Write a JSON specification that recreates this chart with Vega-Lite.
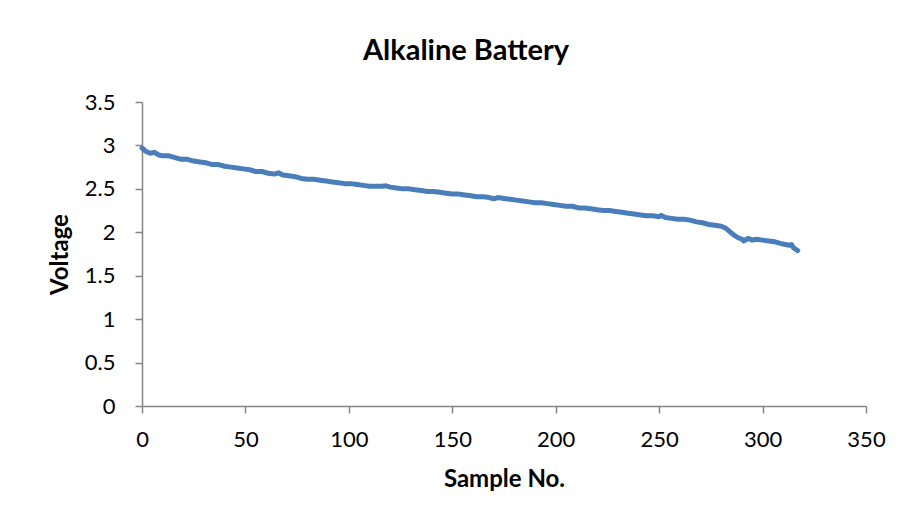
{
  "$schema": "https://vega.github.io/schema/vega-lite/v6.json",
  "width": 724,
  "height": 304,
  "autosize": {"type": "none"},
  "padding": {"left": 142, "top": 102, "right": 40, "bottom": 116},
  "background": "white",
  "title": {
    "text": "Alkaline Battery",
    "anchor": "middle",
    "dx": -38,
    "offset": 25,
    "font": "Lato",
    "fontSize": 29,
    "fontWeight": "bold",
    "color": "#000000"
  },
  "data": {
    "values": [
      {"sample": 0, "voltage": 2.97}, {"sample": 2, "voltage": 2.93}, {"sample": 4, "voltage": 2.91},
      {"sample": 6, "voltage": 2.92}, {"sample": 8, "voltage": 2.89}, {"sample": 10, "voltage": 2.88},
      {"sample": 13, "voltage": 2.88}, {"sample": 16, "voltage": 2.86}, {"sample": 19, "voltage": 2.84},
      {"sample": 22, "voltage": 2.84}, {"sample": 25, "voltage": 2.82}, {"sample": 28, "voltage": 2.81},
      {"sample": 31, "voltage": 2.8}, {"sample": 34, "voltage": 2.78}, {"sample": 37, "voltage": 2.78},
      {"sample": 40, "voltage": 2.76}, {"sample": 43, "voltage": 2.75}, {"sample": 46, "voltage": 2.74},
      {"sample": 49, "voltage": 2.73}, {"sample": 52, "voltage": 2.72}, {"sample": 55, "voltage": 2.7},
      {"sample": 58, "voltage": 2.7}, {"sample": 61, "voltage": 2.68}, {"sample": 64, "voltage": 2.67},
      {"sample": 66, "voltage": 2.685}, {"sample": 68, "voltage": 2.66}, {"sample": 71, "voltage": 2.65},
      {"sample": 74, "voltage": 2.64}, {"sample": 77, "voltage": 2.62}, {"sample": 80, "voltage": 2.61},
      {"sample": 83, "voltage": 2.61}, {"sample": 86, "voltage": 2.6}, {"sample": 89, "voltage": 2.59},
      {"sample": 92, "voltage": 2.58}, {"sample": 95, "voltage": 2.57}, {"sample": 98, "voltage": 2.56},
      {"sample": 101, "voltage": 2.56}, {"sample": 104, "voltage": 2.55}, {"sample": 107, "voltage": 2.54},
      {"sample": 110, "voltage": 2.53}, {"sample": 113, "voltage": 2.53}, {"sample": 116, "voltage": 2.53},
      {"sample": 118, "voltage": 2.535}, {"sample": 120, "voltage": 2.52}, {"sample": 123, "voltage": 2.51},
      {"sample": 126, "voltage": 2.5}, {"sample": 129, "voltage": 2.5}, {"sample": 132, "voltage": 2.49},
      {"sample": 135, "voltage": 2.48}, {"sample": 138, "voltage": 2.47}, {"sample": 141, "voltage": 2.47},
      {"sample": 144, "voltage": 2.46}, {"sample": 147, "voltage": 2.45}, {"sample": 150, "voltage": 2.44},
      {"sample": 153, "voltage": 2.44}, {"sample": 156, "voltage": 2.43}, {"sample": 159, "voltage": 2.42},
      {"sample": 162, "voltage": 2.41}, {"sample": 165, "voltage": 2.41}, {"sample": 168, "voltage": 2.4},
      {"sample": 170, "voltage": 2.385}, {"sample": 172, "voltage": 2.4}, {"sample": 175, "voltage": 2.39},
      {"sample": 178, "voltage": 2.38}, {"sample": 181, "voltage": 2.37}, {"sample": 184, "voltage": 2.36},
      {"sample": 187, "voltage": 2.35}, {"sample": 190, "voltage": 2.34}, {"sample": 193, "voltage": 2.34},
      {"sample": 196, "voltage": 2.33}, {"sample": 199, "voltage": 2.32}, {"sample": 202, "voltage": 2.31},
      {"sample": 205, "voltage": 2.3}, {"sample": 208, "voltage": 2.3}, {"sample": 211, "voltage": 2.28},
      {"sample": 214, "voltage": 2.28}, {"sample": 217, "voltage": 2.27}, {"sample": 220, "voltage": 2.26},
      {"sample": 223, "voltage": 2.25}, {"sample": 226, "voltage": 2.25}, {"sample": 229, "voltage": 2.24},
      {"sample": 232, "voltage": 2.23}, {"sample": 235, "voltage": 2.22}, {"sample": 238, "voltage": 2.21},
      {"sample": 241, "voltage": 2.2}, {"sample": 244, "voltage": 2.19}, {"sample": 247, "voltage": 2.19},
      {"sample": 250, "voltage": 2.18}, {"sample": 251, "voltage": 2.195}, {"sample": 253, "voltage": 2.17},
      {"sample": 256, "voltage": 2.16}, {"sample": 259, "voltage": 2.15}, {"sample": 262, "voltage": 2.15},
      {"sample": 265, "voltage": 2.14}, {"sample": 268, "voltage": 2.12}, {"sample": 271, "voltage": 2.11},
      {"sample": 274, "voltage": 2.09}, {"sample": 277, "voltage": 2.08}, {"sample": 280, "voltage": 2.07},
      {"sample": 282, "voltage": 2.05}, {"sample": 284, "voltage": 2.01}, {"sample": 286, "voltage": 1.97},
      {"sample": 288, "voltage": 1.94}, {"sample": 290, "voltage": 1.92}, {"sample": 291, "voltage": 1.9},
      {"sample": 293, "voltage": 1.93}, {"sample": 295, "voltage": 1.91}, {"sample": 297, "voltage": 1.92},
      {"sample": 300, "voltage": 1.91}, {"sample": 303, "voltage": 1.9}, {"sample": 306, "voltage": 1.89},
      {"sample": 309, "voltage": 1.87}, {"sample": 311, "voltage": 1.86}, {"sample": 313, "voltage": 1.85},
      {"sample": 314, "voltage": 1.86}, {"sample": 315, "voltage": 1.82}, {"sample": 317, "voltage": 1.79}
    ]
  },
  "mark": {"type": "line", "color": "#4a7ebb", "strokeWidth": 5, "strokeJoin": "round", "strokeCap": "round"},
  "encoding": {
    "x": {
      "field": "sample",
      "type": "quantitative",
      "scale": {"domain": [0, 350], "nice": false, "zero": false},
      "axis": {
        "title": "Sample No.",
        "values": [0, 50, 100, 150, 200, 250, 300, 350],
        "grid": false,
        "labelFlush": false,
        "tickSize": 7,
        "labelPadding": 16,
        "titlePadding": 17
      }
    },
    "y": {
      "field": "voltage",
      "type": "quantitative",
      "scale": {"domain": [0, 3.5], "nice": false},
      "axis": {
        "title": "Voltage",
        "values": [0, 0.5, 1, 1.5, 2, 2.5, 3, 3.5],
        "labelExpr": "'' + datum.value",
        "grid": false,
        "labelFlush": false,
        "tickSize": 7,
        "labelPadding": 20,
        "titlePadding": 12
      }
    }
  },
  "config": {
    "view": {"stroke": null},
    "axis": {
      "domainColor": "#868686",
      "domainWidth": 1.5,
      "tickColor": "#868686",
      "tickWidth": 1.5,
      "labelFont": "Lato",
      "labelFontSize": 22,
      "labelColor": "#000000",
      "titleFont": "Lato",
      "titleFontSize": 24,
      "titleFontWeight": "bold",
      "titleColor": "#000000"
    }
  }
}
